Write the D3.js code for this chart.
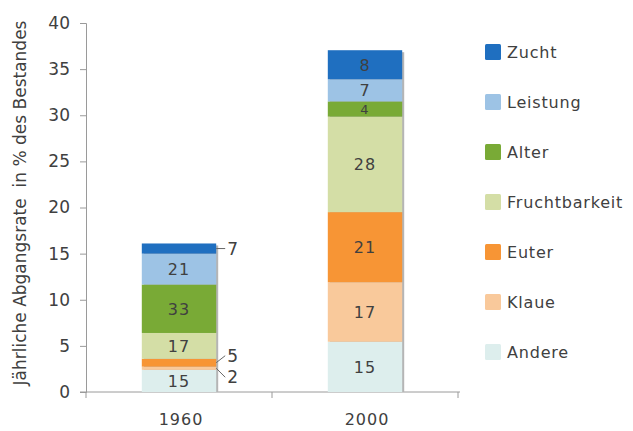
<!DOCTYPE html>
<html>
<head>
<meta charset="utf-8">
<script src="https://cdn.jsdelivr.net/npm/d3@7.9.0/dist/d3.min.js"></script>
<style>
  body { margin: 0; background: #fff; }
  text { font-family: "DejaVu Sans", Verdana, sans-serif; fill: #404040; }
</style>
</head>
<body>
<div id="chart"></div>
<script>
// data
const years = ["1960", "2000"];
const causes = ["Andere", "Klaue", "Euter", "Fruchtbarkeit", "Alter", "Leistung", "Zucht"]; // bottom -> top
const rate1960 = [2.4, 0.35, 0.85, 2.8, 5.25, 3.35, 1.1];
const rate2000 = [5.45, 6.45, 7.6, 10.35, 1.65, 2.4, 3.15];
const share1960 = [15, 2, 5, 17, 33, 21, 7];
const share2000 = [15, 17, 21, 28, 4, 7, 8];
const yTicks = [0, 5, 10, 15, 20, 25, 30, 35, 40];
const colors = ["#ddeeed", "#f9c99b", "#f79535", "#d4dea6", "#79aa36", "#9dc3e5", "#1f6fc0"];

// config
const width = 633,
  height = 431;
const margin = { left: 86, right: 175, top: 23, bottom: 39 };

const svg = d3
  .select("#chart")
  .append("svg")
  .attr("width", width)
  .attr("height", height);

const rows = years.map((yr, i) => {
  const r = { year: yr };
  const vals = i === 0 ? rate1960 : rate2000;
  const sh = i === 0 ? share1960 : share2000;
  causes.forEach((c, j) => {
    r[c] = vals[j];
    r[c + "_share"] = sh[j];
  });
  return r;
});

const series = d3.stack().keys(causes)(rows);

const x = d3
  .scaleBand()
  .domain(years)
  .range([margin.left, 458])
  .paddingInner(0.6)
  .paddingOuter(0.3);

const y = d3
  .scaleLinear()
  .domain([0, 40])
  .range([height - margin.bottom, margin.top]);

const color = d3.scaleOrdinal().domain(causes).range(colors);

// axes
const yAxis = svg
  .append("g")
  .attr("transform", `translate(${margin.left},0)`)
  .call(d3.axisLeft(y).tickValues(yTicks).tickSize(6).tickPadding(10));
yAxis.select(".domain").attr("stroke", "#9a9a9a");
yAxis.selectAll(".tick line").attr("stroke", "#9a9a9a");
yAxis
  .selectAll(".tick text")
  .style("font-size", "17px")
  .style("font-family", '"DejaVu Sans", Verdana, sans-serif')
  .attr("fill", "#404040");

const xg = svg.append("g").attr("transform", `translate(0,${y(0)})`);
xg.append("line")
  .attr("x1", margin.left - 6)
  .attr("x2", 460)
  .attr("stroke", "#9a9a9a");
// category separators
const seps = [margin.left, (x("1960") + x.bandwidth() + x("2000")) / 2, 458];
xg.selectAll(".sep")
  .data(seps)
  .join("line")
  .attr("x1", (d) => d)
  .attr("x2", (d) => d)
  .attr("y1", 0)
  .attr("y2", 6)
  .attr("stroke", "#9a9a9a");
xg.selectAll(".yr")
  .data(years)
  .join("text")
  .attr("x", (d) => x(d) + x.bandwidth() / 2 + 2)
  .attr("y", 33)
  .attr("text-anchor", "middle")
  .style("font-size", "16px")
  .style("letter-spacing", "1px")
  .text((d) => d);

// bar shadows
svg
  .selectAll(".shadow")
  .data(rows)
  .join("rect")
  .attr("x", (d) => x(d.year) + 2)
  .attr("y", (d) => y(d3.sum(causes, (c) => d[c])) + 2)
  .attr("width", x.bandwidth())
  .attr("height", (d) => y(0) - y(d3.sum(causes, (c) => d[c])) - 2)
  .attr("fill", "#b5b5b5");

// stacked bars
const layers = svg
  .selectAll(".layer")
  .data(series)
  .join("g")
  .attr("fill", (d) => color(d.key));

layers
  .selectAll("rect")
  .data((d) => d)
  .join("rect")
  .attr("x", (d) => x(d.data.year))
  .attr("y", (d) => y(d[1]))
  .attr("width", x.bandwidth())
  .attr("height", (d) => y(d[0]) - y(d[1]));

// labels
const labelData = [];
series.forEach((s) => {
  s.forEach((d) => {
    labelData.push({
      key: s.key,
      year: d.data.year,
      share: d.data[s.key + "_share"],
      mid: (d[0] + d[1]) / 2,
      h: y(d[0]) - y(d[1]),
    });
  });
});

const inside = labelData.filter((d) => d.h >= 12);
const outside = labelData.filter((d) => d.h < 12);

svg
  .selectAll(".lbl")
  .data(inside)
  .join("text")
  .attr("x", (d) => x(d.year) + x.bandwidth() / 2)
  .attr("y", (d) => y(d.mid))
  .attr("dy", "0.36em")
  .attr("text-anchor", "middle")
  .style("font-size", (d) => (d.h < 18 ? "13px" : "16px"))
  .style("letter-spacing", "1px")
  .attr("fill", "#333")
  .text((d) => d.share);

// small segments get a leader line
const offset = { Zucht: 0, Euter: -7, Klaue: 9 };
const out = svg.selectAll(".out").data(outside).join("g");
out
  .append("line")
  .attr("x1", (d) => x(d.year) + x.bandwidth())
  .attr("y1", (d) => y(d.mid))
  .attr("x2", (d) => x(d.year) + x.bandwidth() + 9)
  .attr("y2", (d) => y(d.mid) + (offset[d.key] || 0))
  .attr("stroke", "#666");
out
  .append("text")
  .attr("x", (d) => x(d.year) + x.bandwidth() + 11)
  .attr("y", (d) => y(d.mid) + (offset[d.key] || 0))
  .attr("dy", "0.36em")
  .style("font-size", "17px")
  .text((d) => d.share);

// legend
const legend = svg
  .selectAll(".leg")
  .data(causes.slice().reverse())
  .join("g")
  .attr("transform", (d, i) => `translate(485,${52 + i * 50})`);
legend
  .append("rect")
  .attr("x", 0)
  .attr("y", -8)
  .attr("width", 16)
  .attr("height", 16)
  .attr("rx", 1.5)
  .attr("fill", (d) => color(d));
legend
  .append("text")
  .attr("x", 22)
  .attr("dy", "0.36em")
  .style("font-size", "16px")
  .style("letter-spacing", "0.8px")
  .text((d) => d);

// y axis title
svg
  .append("text")
  .attr("transform", `translate(20,${(10 + 396) / 2}) rotate(-90)`)
  .attr("text-anchor", "middle")
  .attr("dy", "0.36em")
  .style("font-size", "17px")
  .style("white-space", "pre")
  .text("Jährliche Abgangsrate  in % des Bestandes");
</script>
</body>
</html>
